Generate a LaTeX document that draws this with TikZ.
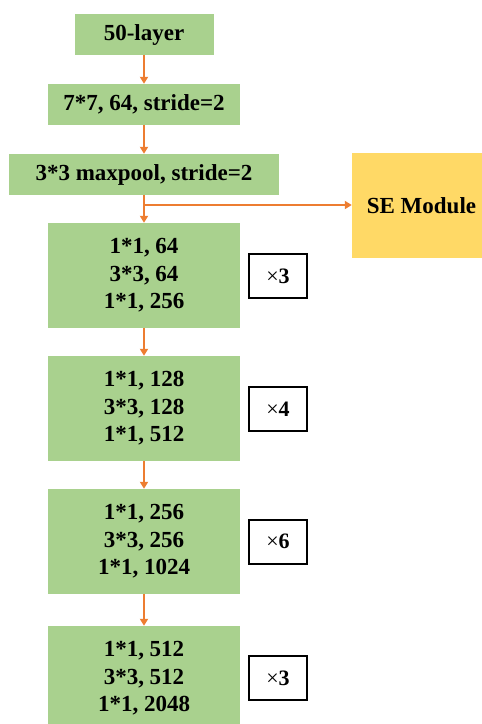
\documentclass[tikz,border=0pt]{standalone}
\usepackage{fontspec}
\setmainfont{Liberation Serif}
\usetikzlibrary{arrows.meta}
\definecolor{layergreen}{HTML}{A9D18E}
\definecolor{seyellow}{HTML}{FFD966}
\definecolor{flow}{HTML}{ED7D31}
\begin{document}
\begin{tikzpicture}[x=1pt,y=-1pt,
  layer/.style={fill=layergreen, draw=none, inner sep=0pt, align=center,
    font=\fontsize{23}{27.5}\selectfont\bfseries},
  repbox/.style={draw=black, line width=1.7pt, fill=white, inner sep=0pt,
    minimum width=58pt, minimum height=44pt,
    font=\fontsize{22}{26}\selectfont},
  flowarrow/.style={draw=flow, line width=2.3pt,
    -{Triangle[length=7pt,width=8pt]}},
]
\useasboundingbox (0,0) rectangle (482,724);
\begin{scope}
\clip (0,0) rectangle (482,724);

% stem layers
\node[layer, minimum width=139pt, minimum height=41pt] (b1) at (144,34.5) {50-layer};
\node[layer, minimum width=192pt, minimum height=41pt] (b2) at (144,104.5) {7*7, 64, stride=2};
\node[layer, minimum width=270pt, minimum height=41pt] (b3) at (144,174.5) {3*3 maxpool, stride=2};

% bottleneck stages
\node[layer, minimum width=192pt, minimum height=105pt] (b4) at (144,275.5) {1*1, 64\\3*3, 64\\1*1, 256};
\node[layer, minimum width=192pt, minimum height=105pt] (b5) at (144,408.5) {1*1, 128\\3*3, 128\\1*1, 512};
\node[layer, minimum width=192pt, minimum height=105pt] (b6) at (144,541.5) {1*1, 256\\3*3, 256\\1*1, 1024};
\node[layer, minimum width=192pt, minimum height=105pt] (b7) at (144,678.5) {1*1, 512\\3*3, 512\\1*1, 2048};

% repeat counts
\node[repbox] (r4) at (278,276) {×\textbf{3}};
\node[repbox] (r5) at (278,409) {×\textbf{4}};
\node[repbox] (r6) at (278,541.7) {×\textbf{6}};
\node[repbox] (r7) at (278,678) {×\textbf{3}};

% SE module
\node[fill=seyellow, inner sep=0pt, minimum width=139pt, minimum height=105pt,
  font=\fontsize{23}{27.5}\selectfont\bfseries] (se) at (421.5,205.5) {SE Module};
\end{scope}

% connectors
\draw[flowarrow] (b1.south) -- (b2.north);
\draw[flowarrow] (b2.south) -- (b3.north);
\draw[flowarrow] (b3.south) -- (b4.north);
\coordinate (br) at (144,205);
\draw[flowarrow] (br) -- (se.west |- br);
\draw[flowarrow] (b4.south) -- (b5.north);
\draw[flowarrow] (b5.south) -- (b6.north);
\draw[flowarrow] (b6.south) -- (b7.north);
\end{tikzpicture}
\end{document}
